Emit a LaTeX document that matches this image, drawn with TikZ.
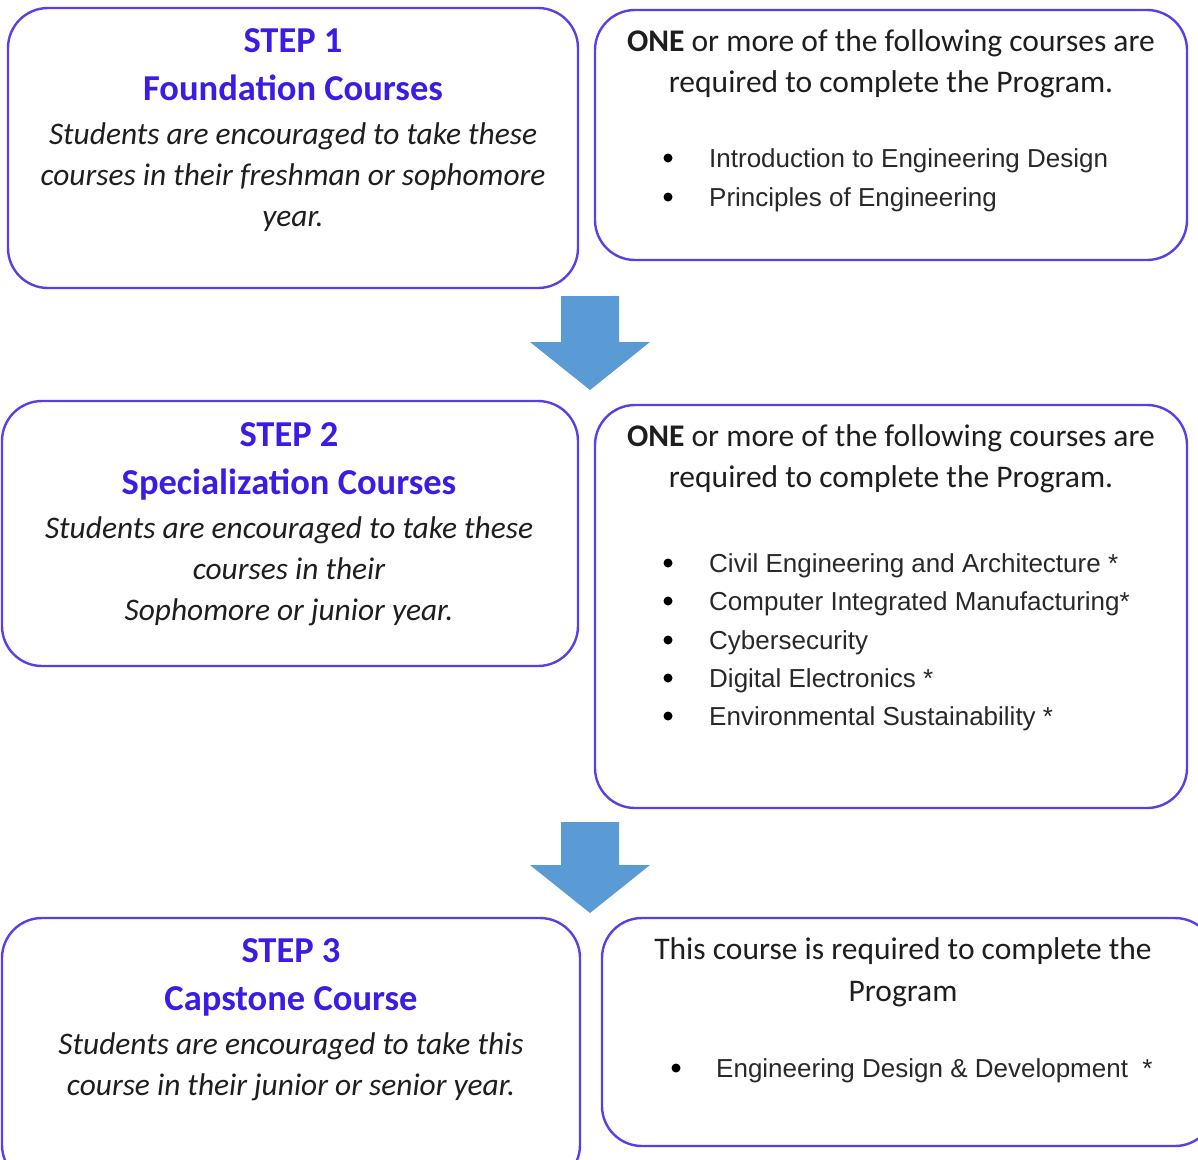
\documentclass[tikz,border=0pt]{standalone}
\usepackage{fontspec}
\usetikzlibrary{calc}
\setmainfont{Carlito}
\newfontfamily\arialf{Liberation Sans}
\definecolor{boxline}{RGB}{92,62,230}
\definecolor{headc}{RGB}{58,28,228}
\definecolor{arrowc}{RGB}{91,155,213}
\definecolor{txt}{RGB}{30,30,30}
\definecolor{btxt}{RGB}{40,40,40}
\tikzset{
  roundbox/.style={draw=boxline, line width=2.4pt, rounded corners=40pt},
  headtxt/.style={anchor=base, text=headc, font=\fontsize{36.5}{40}\selectfont\bfseries, inner sep=0pt},
  ittxt/.style={anchor=base, text=txt, font=\fontsize{31.4}{36}\selectfont\itshape, inner sep=0pt},
  rtxt/.style={anchor=base, text=txt, font=\fontsize{31.5}{36}\selectfont, inner sep=0pt},
  btxtst/.style={anchor=base west, text=btxt, font=\arialf\fontsize{26}{30}\selectfont, inner sep=0pt},
  bdot/.style={circle, fill=black, inner sep=0pt, minimum size=9pt},
  blockarrow/.style={fill=arrowc},
}
\begin{document}
\begin{tikzpicture}[x=1pt,y=-1pt]
\useasboundingbox (0,0) rectangle (1198,1159);
\begin{scope}
\clip (0,0) rectangle (1198,1159);
% boxes
\draw[roundbox] (8,8) rectangle (578,288);
\draw[roundbox] (595,10) rectangle (1187,260);
\draw[roundbox] (2,401) rectangle (578,666);
\draw[roundbox] (595,405) rectangle (1187,808);
\draw[roundbox] (2,918) rectangle (580,1185);
\draw[roundbox] (602,918) rectangle (1215,1146);
\end{scope}
% block arrows
\coordinate (a1) at (590,296);
\coordinate (a2) at (590,822);
\foreach \a/\len in {a1/94,a2/91}{
  \fill[blockarrow] ($(\a)+(-29,0)$) -- ($(\a)+(29,0)$) -- ($(\a)+(29,\len-48)$) -- ($(\a)+(60,\len-48)$) -- ($(\a)+(0,\len)$) -- ($(\a)+(-60,\len-48)$) -- ($(\a)+(-29,\len-48)$) -- cycle;
}
% box 1
\node[headtxt] (s1) at (293,52) {STEP 1};
\node[headtxt] (h1) at (293,100) {Foundation Courses};
\node[ittxt] (i1a) at (293,144) {Students are encouraged to take these};
\node[ittxt] (i1b) at (293,185) {courses in their freshman or sophomore};
\node[ittxt] (i1c) at (293,226) {year.};
% box 2
\node[rtxt] (r2a) at (891,51) {\textbf{ONE} or more of the following courses are};
\node[rtxt] (r2b) at (891,92) {required to complete the Program.};
\node[bdot] (d2a) at (668,158) {};
\node[btxtst] (t2a) at (709,167) {Introduction to Engineering Design};
\node[bdot] (d2b) at (668,197) {};
\node[btxtst] (t2b) at (709,206) {Principles of Engineering};
% box 3
\node[headtxt] (s2) at (289,446) {STEP 2};
\node[headtxt] (h2) at (289,494) {Specialization Courses};
\node[ittxt] (i2a) at (289,538) {Students are encouraged to take these};
\node[ittxt] (i2b) at (289,579) {courses in their};
\node[ittxt] (i2c) at (289,620) {Sophomore or junior year.};
% box 4
\node[rtxt] (r4a) at (891,446) {\textbf{ONE} or more of the following courses are};
\node[rtxt] (r4b) at (891,487) {required to complete the Program.};
\foreach \y/\t [count=\i] in {563/{Civil Engineering and Architecture *},601/{Computer Integrated Manufacturing*},640/{Cybersecurity},678/{Digital Electronics *},716/{Environmental Sustainability *}}{
  \node[bdot] (d4\i) at (668,\y) {};
  \node[btxtst] (t4\i) at (709,\y+9) {\t};
}
% box 5
\node[headtxt] (s3) at (291,962) {STEP 3};
\node[headtxt] (h3) at (291,1010) {Capstone Course};
\node[ittxt] (i3a) at (291,1054) {Students are encouraged to take this};
\node[ittxt] (i3b) at (291,1095) {course in their junior or senior year.};
% box 6
\node[rtxt] (r6a) at (903,959) {This course is required to complete the};
\node[rtxt] (r6b) at (903,1001) {Program};
\node[bdot] (d6) at (676,1068) {};
\node[btxtst] (t6) at (716,1077) {Engineering Design \& Development\ \ *};
\end{tikzpicture}
\end{document}
